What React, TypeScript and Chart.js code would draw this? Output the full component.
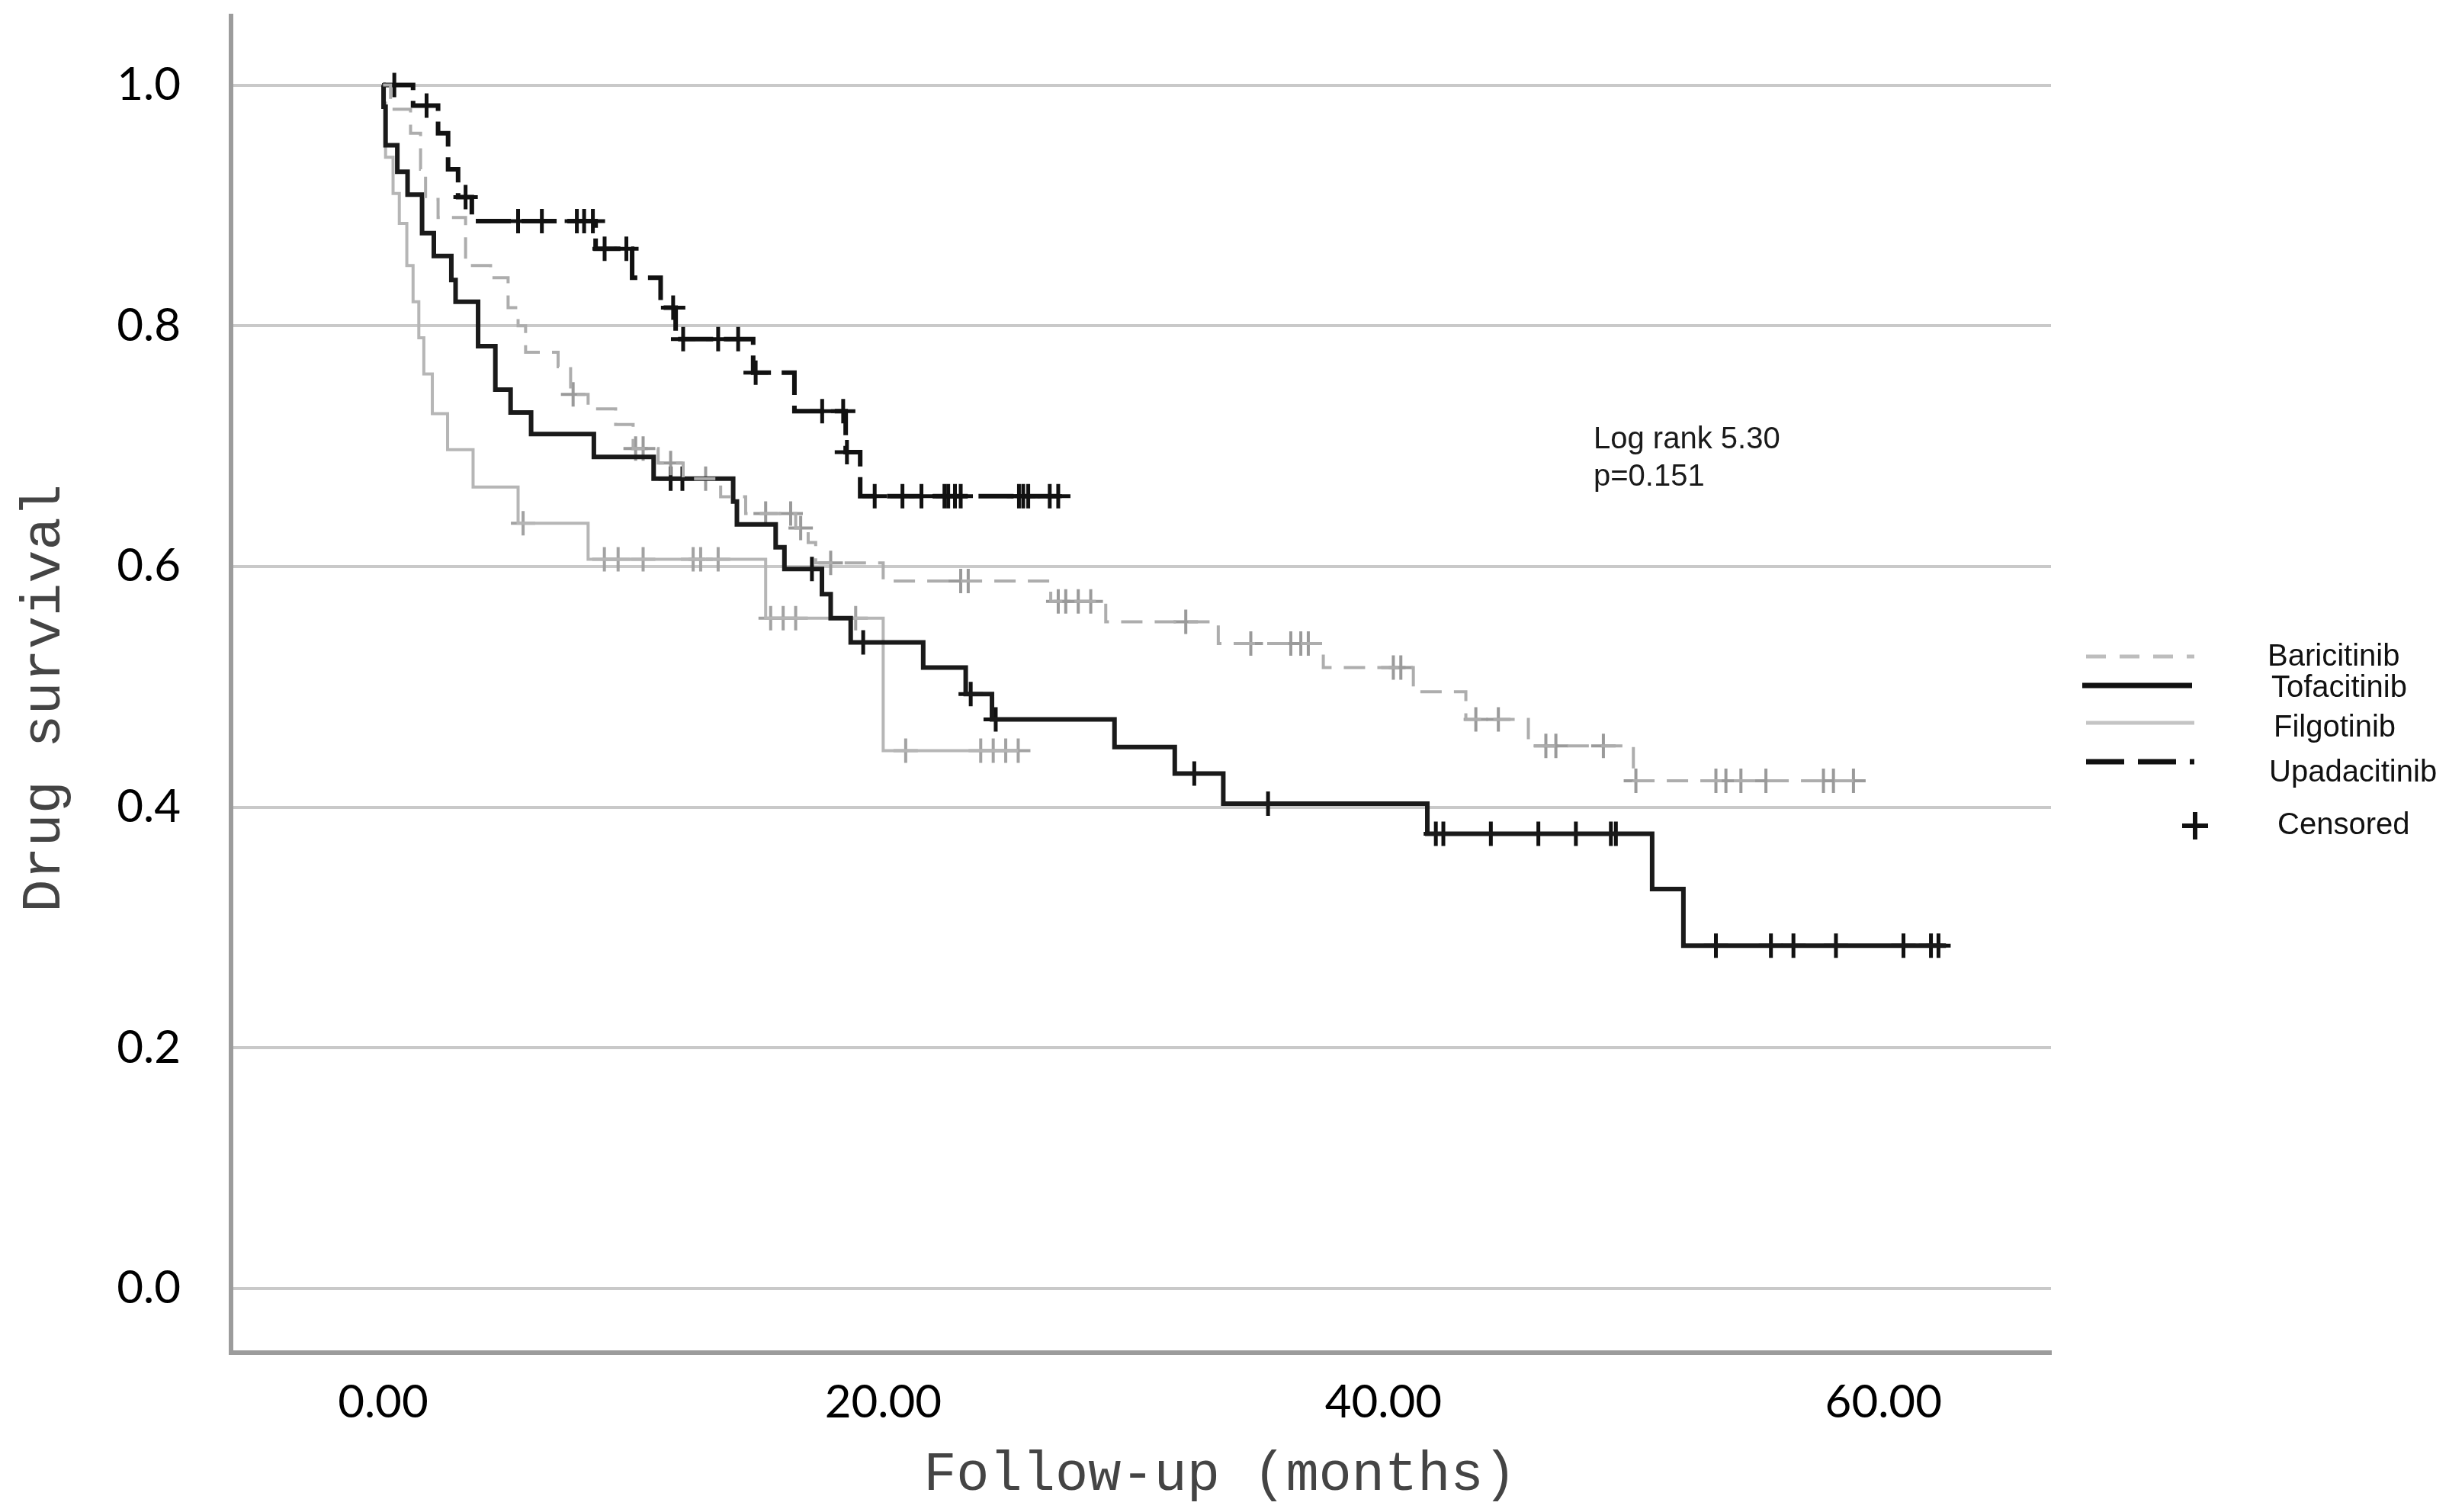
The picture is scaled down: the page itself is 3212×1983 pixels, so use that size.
import React, { useEffect, useRef } from "react";
import { Chart, registerables } from "chart.js";

Chart.register(...registerables);

const W = 3212;
const H = 1983;

const xTickValues = [0, 20, 40, 60];
const yTickValues = [0, 0.2, 0.4, 0.6, 0.8, 1.0];

const xTitle = "Follow-up (months)";
const yTitle = "Drug survival";
const annotationLines = ["Log rank 5.30", "p=0.151"];

// Baricitinib
const bariEventTimes = [0.3, 1.1, 1.5, 1.7, 2.2, 3.3, 4.3, 5.0, 5.4, 5.7, 7.0, 7.5, 8.2, 9.3, 10.0, 11.0, 12.0, 13.5, 14.5, 16.5, 17.0, 17.3, 20.0, 26.7, 28.9, 33.4, 37.6, 41.2, 43.3, 45.8, 50.0];
const bariSurvival = [0.98, 0.96, 0.93, 0.905, 0.89, 0.85, 0.84, 0.815, 0.8, 0.778, 0.766, 0.743, 0.731, 0.718, 0.698, 0.686, 0.673, 0.658, 0.644, 0.632, 0.62, 0.603, 0.588, 0.571, 0.554, 0.536, 0.516, 0.496, 0.473, 0.451, 0.422];
const bariCensorTimes = [7.6, 10.1, 10.4, 11.5, 12.9, 15.3, 16.3, 16.7, 17.9, 23.1, 23.4, 27.0, 27.3, 27.8, 28.3, 32.1, 34.7, 36.3, 36.7, 37.0, 40.4, 40.7, 43.7, 44.6, 46.5, 46.9, 48.8, 50.1, 53.3, 53.7, 54.3, 55.3, 57.6, 58.0, 58.8];
const bariLastTime = 58.8;

// Tofacitinib
const tofaEventTimes = [0.02, 0.1, 0.57, 0.98, 1.56, 2.03, 2.73, 2.9, 3.8, 4.49, 5.1, 5.92, 8.43, 10.82, 14.0, 14.15, 15.7, 16.05, 17.55, 17.9, 18.7, 21.6, 23.3, 24.35, 29.25, 31.66, 33.6, 41.76, 50.75, 52.0];
const tofaSurvival = [0.982, 0.95, 0.928, 0.909, 0.877, 0.858, 0.838, 0.82, 0.783, 0.747, 0.728, 0.71, 0.691, 0.673, 0.654, 0.635, 0.616, 0.598, 0.577, 0.557, 0.537, 0.516, 0.494, 0.473, 0.45, 0.428, 0.403, 0.378, 0.332, 0.285];
const tofaCensorTimes = [11.5, 11.97, 17.15, 19.2, 23.5, 24.5, 32.44, 35.39, 42.1, 42.4, 44.3, 46.2, 47.7, 49.1, 49.3, 53.3, 55.5, 56.4, 58.1, 60.8, 61.9, 62.2];
const tofaLastTime = 62.5;

// Filgotinib
const filgEventTimes = [0.02, 0.1, 0.4, 0.65, 0.95, 1.2, 1.43, 1.63, 1.97, 2.58, 3.6, 5.4, 8.2, 15.3, 20.0];
const filgSurvival = [0.985, 0.94, 0.91, 0.885, 0.85, 0.82, 0.79, 0.76, 0.727, 0.697, 0.666, 0.636, 0.606, 0.557, 0.447];
const filgCensorTimes = [5.6, 8.85, 9.4, 10.4, 12.4, 12.7, 13.4, 15.5, 16.0, 16.5, 18.9, 20.9, 23.9, 24.4, 24.9, 25.4];
const filgLastTime = 25.4;

// Upadacitinib
const upaEventTimes = [1.2, 2.2, 2.6, 3.0, 3.55, 8.5, 9.96, 11.1, 11.7, 14.8, 16.45, 18.5, 19.08];
const upaSurvival = [0.983, 0.96, 0.93, 0.907, 0.887, 0.864, 0.84, 0.815, 0.789, 0.761, 0.729, 0.695, 0.6585];
const upaCensorTimes = [0.45, 1.74, 3.3, 5.4, 6.35, 7.75, 8.04, 8.39, 8.86, 9.73, 11.6, 12.0, 13.4, 14.2, 14.9, 17.56, 18.4, 18.55, 19.66, 20.77, 21.53, 22.45, 22.6, 22.87, 23.1, 25.43, 25.6, 25.8, 26.66, 27.0];
const upaLastTime = 27.0;

type Pt = { x: number; y: number };

function stepPoints(times: number[], surv: number[], last: number): Pt[] {
  const pts: Pt[] = [{ x: 0, y: 1 }];
  times.forEach((t, i) => pts.push({ x: t, y: surv[i] }));
  pts.push({ x: last, y: surv[surv.length - 1] });
  return pts;
}

function survivalAt(times: number[], surv: number[], t: number): number {
  let s = 1;
  for (let i = 0; i < times.length; i++) {
    if (times[i] <= t) s = surv[i];
  }
  return s;
}

function censorPoints(times: number[], surv: number[], cens: number[]): Pt[] {
  return cens.map((c) => ({ x: c, y: survivalAt(times, surv, c) }));
}

const series = [
  { name: "Baricitinib", times: bariEventTimes, surv: bariSurvival, cens: bariCensorTimes, last: bariLastTime, color: "#adadad", censColor: "#9a9a9a", width: 4, censWidth: 4, dash: [28, 16] },
  { name: "Tofacitinib", times: tofaEventTimes, surv: tofaSurvival, cens: tofaCensorTimes, last: tofaLastTime, color: "#1a1a1a", censColor: "#111111", width: 6, censWidth: 5, dash: [] as number[] },
  { name: "Filgotinib", times: filgEventTimes, surv: filgSurvival, cens: filgCensorTimes, last: filgLastTime, color: "#b6b6b6", censColor: "#a2a2a2", width: 4, censWidth: 4, dash: [] as number[] },
  { name: "Upadacitinib", times: upaEventTimes, surv: upaSurvival, cens: upaCensorTimes, last: upaLastTime, color: "#111111", censColor: "#111111", width: 6, censWidth: 5, dash: [46, 14] },
];

const legendItems = [
  { label: "Baricitinib", kind: "line", color: "#bdbdbd", width: 5, dash: [26, 18], x1: 2736, x2: 2878, y: 861, tx: 2974, ty: 862 },
  { label: "Tofacitinib", kind: "line", color: "#111111", width: 7, dash: [] as number[], x1: 2731, x2: 2875, y: 899, tx: 2979, ty: 903 },
  { label: "Filgotinib", kind: "line", color: "#c4c4c4", width: 5, dash: [] as number[], x1: 2736, x2: 2878, y: 948, tx: 2982, ty: 955 },
  { label: "Upadacitinib", kind: "line", color: "#111111", width: 7, dash: [50, 18], x1: 2736, x2: 2878, y: 999, tx: 2976, ty: 1014 },
  { label: "Censored", kind: "cross", color: "#111111", width: 6, dash: [] as number[], x1: 2879, x2: 2879, y: 1083, tx: 2987, ty: 1083 },
];

const overlayPlugin = {
  id: "overlay",
  afterDraw(chart: any) {
    const ctx: CanvasRenderingContext2D = chart.ctx;
    ctx.save();
    // axis titles
    ctx.fillStyle = "#444444";
    ctx.font = '72px "Liberation Mono"';
    ctx.textAlign = "center";
    ctx.textBaseline = "alphabetic";
    ctx.fillText(xTitle, 1600, 1954);
    ctx.save();
    ctx.translate(78, 916);
    ctx.rotate(-Math.PI / 2);
    ctx.fillText(yTitle, 0, 0);
    ctx.restore();

    // annotation
    ctx.fillStyle = "#1a1a1a";
    ctx.font = '40px "Liberation Sans"';
    ctx.textAlign = "left";
    ctx.textBaseline = "middle";
    ctx.fillText(annotationLines[0], 2090, 577);
    ctx.fillText(annotationLines[1], 2090, 626);

    // legend
    legendItems.forEach((it) => {
      ctx.save();
      ctx.strokeStyle = it.color;
      ctx.lineWidth = it.width;
      ctx.lineCap = "butt";
      if (it.kind === "line") {
        ctx.setLineDash(it.dash);
        ctx.beginPath();
        ctx.moveTo(it.x1, it.y);
        ctx.lineTo(it.x2, it.y);
        ctx.stroke();
      } else {
        ctx.setLineDash([]);
        ctx.beginPath();
        ctx.moveTo(it.x1 - 17, it.y);
        ctx.lineTo(it.x1 + 17, it.y);
        ctx.moveTo(it.x1, it.y - 18);
        ctx.lineTo(it.x1, it.y + 18);
        ctx.stroke();
      }
      ctx.restore();
      ctx.fillStyle = "#111111";
      ctx.font = '40px "Liberation Sans"';
      ctx.textAlign = "left";
      ctx.textBaseline = "middle";
      ctx.fillText(it.label, it.tx, it.ty);
    });
    ctx.restore();
  },
};

export default function App() {
  const canvasRef = useRef<HTMLCanvasElement | null>(null);

  useEffect(() => {
    if (!canvasRef.current) return;
    const datasets: any[] = [];
    series.forEach((s) => {
      datasets.push({
        type: "line",
        label: s.name,
        data: stepPoints(s.times, s.surv, s.last),
        stepped: "before",
        borderColor: s.color,
        borderWidth: s.width,
        borderDash: s.dash,
        borderCapStyle: "butt",
        borderJoinStyle: "miter",
        pointRadius: 0,
        pointHoverRadius: 0,
        fill: false,
        tension: 0,
      });
    });
    series.forEach((s) => {
      datasets.push({
        type: "line",
        label: s.name + " censored",
        data: censorPoints(s.times, s.surv, s.cens),
        showLine: false,
        pointStyle: "cross",
        pointRadius: 16,
        pointHoverRadius: 16,
        pointBorderWidth: s.censWidth,
        pointBorderColor: s.censColor,
        pointBackgroundColor: s.censColor,
      });
    });

    const chart = new Chart(canvasRef.current, {
      type: "line",
      data: { datasets },
      options: {
        animation: false,
        responsive: false,
        devicePixelRatio: 1,
        layout: { padding: { left: 0, right: W - 2690, top: 20, bottom: 0 } },
        plugins: {
          legend: { display: false },
          tooltip: { enabled: false },
          title: { display: false },
        },
        events: [],
        scales: {
          x: {
            type: "linear",
            min: -6.08,
            max: 66.7,
            afterBuildTicks: (scale: any) => {
              scale.ticks = xTickValues.map((v) => ({ value: v }));
            },
            afterFit: (scale: any) => {
              scale.height = H - 1774;
              scale.paddingLeft = 0;
              scale.paddingRight = 0;
              scale.paddingTop = 0;
              scale.paddingBottom = 0;
            },
            grid: { display: false, drawTicks: false },
            border: { display: true, color: "#9c9c9c", width: 6 },
            ticks: {
              font: { family: "Lato", size: 60 },
              color: "#000000",
              padding: 30,
              maxRotation: 0,
              autoSkip: false,
              callback: (v: any) => Number(v).toFixed(2),
            },
          },
          y: {
            type: "linear",
            min: -0.0532,
            max: 1.0574,
            afterBuildTicks: (scale: any) => {
              scale.ticks = yTickValues.map((v) => ({ value: v }));
            },
            afterFit: (scale: any) => {
              scale.width = 303;
              scale.paddingLeft = 0;
              scale.paddingRight = 0;
              scale.paddingTop = 0;
              scale.paddingBottom = 0;
            },
            grid: { color: "#c9c9c9", lineWidth: 4, drawTicks: false },
            border: { display: true, color: "#9c9c9c", width: 6 },
            ticks: {
              font: { family: "Lato", size: 60 },
              color: "#000000",
              padding: 66,
              autoSkip: false,
              callback: (v: any) => Number(v).toFixed(1),
            },
          },
        },
      } as any,
      plugins: [overlayPlugin],
    });

    let alive = true;
    if ((document as any).fonts && (document as any).fonts.load) {
      Promise.all([
        (document as any).fonts.load('60px "Lato"'),
        (document as any).fonts.load('72px "Liberation Mono"'),
        (document as any).fonts.load('40px "Liberation Sans"'),
      ])
        .then(() => {
          if (alive) chart.update();
        })
        .catch(() => {});
    }

    return () => {
      alive = false;
      chart.destroy();
    };
  }, []);

  return (
    <div style={{ position: "fixed", left: 0, top: 0, width: W, height: H, background: "#ffffff" }}>
      <canvas ref={canvasRef} width={W} height={H} style={{ width: W, height: H, display: "block" }} />
    </div>
  );
}
